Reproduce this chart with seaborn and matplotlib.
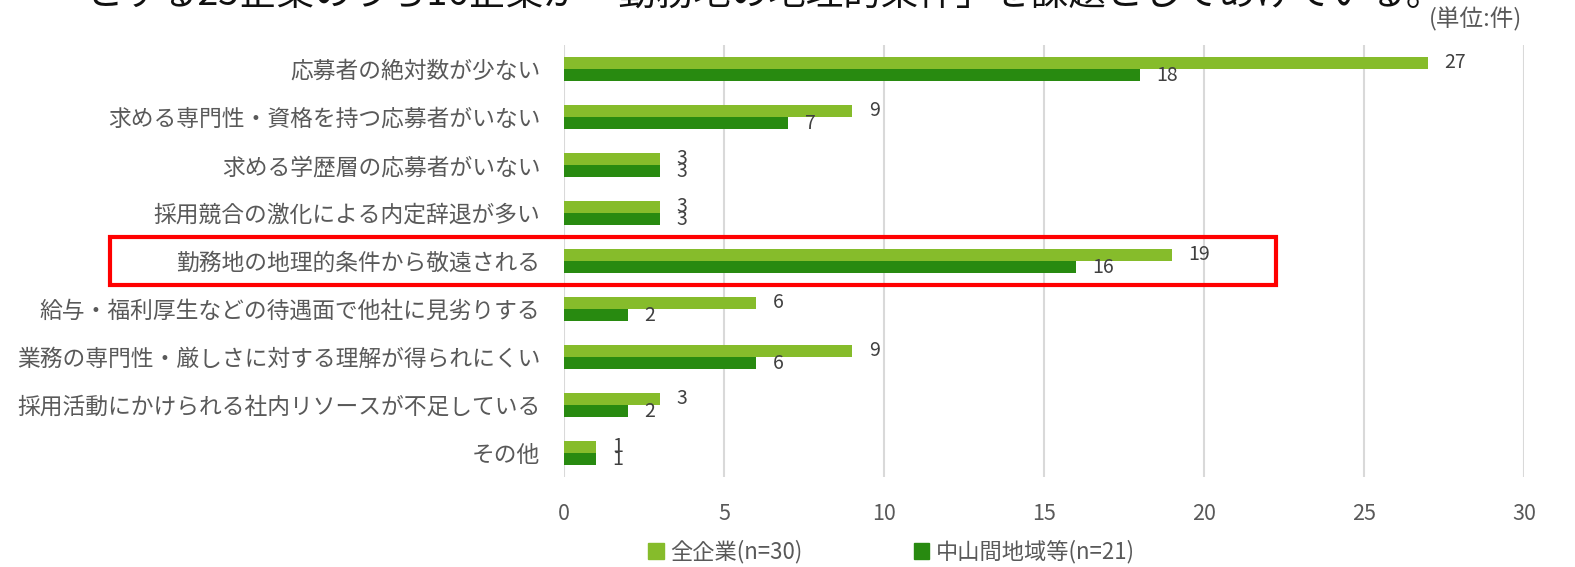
import pandas as pd
import matplotlib.pyplot as plt
import matplotlib.transforms as mtransforms
from matplotlib.patches import Rectangle
import seaborn as sns

# data
categories = ['応募者の絶対数が少ない', '求める専門性・資格を持つ応募者がいない', '求める学歴層の応募者がいない',
              '採用競合の激化による内定辞退が多い', '勤務地の地理的条件から敬遠される',
              '給与・福利厚生などの待遇面で他社に見劣りする', '業務の専門性・厳しさに対する理解が得られにくい',
              '採用活動にかけられる社内リソースが不足している', 'その他']
all_firms = [27, 9, 3, 3, 19, 6, 9, 3, 1]
mountain_firms = [18, 7, 3, 3, 16, 2, 6, 2, 1]
series_names = ['全企業(n=30)', '中山間地域等(n=21)']
highlight = '勤務地の地理的条件から敬遠される'

df = pd.DataFrame({
    'category': categories * 2,
    'value': all_firms + mountain_firms,
    'series': [series_names[0]] * len(categories) + [series_names[1]] * len(categories),
})

sns.set_theme(style='white')
plt.rcParams['font.family'] = ['Noto Sans CJK JP', 'DejaVu Sans']

grey = '#595959'
colors = ['#86BC2B', '#288A10']

fig = plt.figure(figsize=(15.75, 5.67), dpi=100)
ax = fig.add_axes([0.3581, 0.1587, 0.6095, 0.7619])

sns.barplot(data=df, x='value', y='category', hue='series', order=categories,
            hue_order=series_names, palette=colors, orient='h', width=0.52,
            gap=0, saturation=1, edgecolor='none', ax=ax)

ax.set_xlim(0, 30)
ax.set_xticks(range(0, 31, 5))
ax.xaxis.grid(True, color='#D9D9D9', linewidth=1.5)
ax.set_axisbelow(True)
for s in ax.spines.values():
    s.set_visible(False)
ax.set_xlabel('')
ax.set_ylabel('')
ax.tick_params(axis='y', length=0, pad=17, labelsize=16.4, labelcolor=grey)
ax.tick_params(axis='x', length=0, pad=19, labelsize=15.5, labelcolor=grey)

# value labels
for i, cont in enumerate(ax.containers):
    ax.bar_label(cont, padding=12, fontsize=14, color='#404040')

ax.legend_.remove()
handles = [Rectangle((0, 0), 1, 1, color=c) for c in colors]
fig.legend(handles, series_names, loc='center', bbox_to_anchor=(0.566, 0.027), ncol=2,
           frameon=False, fontsize=16, labelcolor=grey, handlelength=0.7, handleheight=0.7,
           handletextpad=0.3, columnspacing=5)

# red highlight box
idx = categories.index(highlight)
trans = mtransforms.blended_transform_factory(fig.transFigure, ax.transData)
x0 = 110 / 1575
x1 = fig.transFigure.inverted().transform(ax.transData.transform((22.25, 0)))[0]
ax.add_patch(Rectangle((x0, idx - 0.51), x1 - x0, 1.02, transform=trans, fill=False,
                       edgecolor='#FF0000', linewidth=3, clip_on=False))

# cropped title and unit note
fig.text(85 / 1575, 1 - 15 / 567, 'とする25企業のうち16企業が「勤務地の地理的条件」を課題としてあげている。',
         fontsize=27, color='#111111', ha='left', va='bottom')
fig.text(1522 / 1575, 1 - 19 / 567, '(単位:件)', fontsize=17, color=grey, ha='right', va='center')

fig.savefig('out.png', dpi=100)
